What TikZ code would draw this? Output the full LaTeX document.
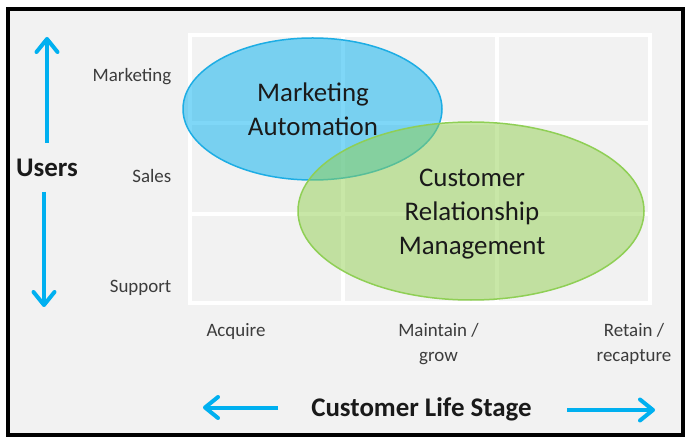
\documentclass[tikz,border=0pt]{standalone}
\usepackage{fontspec}
\setmainfont{Carlito}
\usetikzlibrary{arrows.meta,shapes.geometric}
\definecolor{bg}{HTML}{F2F2F2}
\definecolor{cyanarrow}{HTML}{00B0F0}
\definecolor{mablue}{HTML}{00B0F0}
\definecolor{mastroke}{HTML}{1DADE4}
\definecolor{crmgreen}{HTML}{92D050}
\definecolor{crmstroke}{HTML}{8FCF55}
\definecolor{txt}{HTML}{1A1A1A}
\definecolor{lbl}{HTML}{3C3C3C}
\newcommand{\mlines}[1]{\begin{tabular}[t]{@{}c@{}}#1\end{tabular}}
\begin{document}
\begin{tikzpicture}[x=1bp,y=-1bp,
  gridline/.style={white, line width=4bp},
  bigtext/.style={inner sep=0, text=txt, font=\fontsize{27}{34}\selectfont, anchor=base},
  boldtext/.style={inner sep=0, text=txt, font=\bfseries\fontsize{27}{34}\selectfont, anchor=base},
  rowlabel/.style={inner sep=0, text=lbl, font=\fontsize{19}{24.7}\selectfont, anchor=base east},
  collabel/.style={inner sep=0, text=lbl, font=\fontsize{19}{24.7}\selectfont, anchor=base},
  bluearrow/.style={cyanarrow, line width=4bp, -{Straight Barb[length=13bp,width=21bp,line cap=round,line join=round]}},
  blob/.style={ellipse, inner sep=0, outer sep=0, line width=1.5bp, fill opacity=0.5}
]
\useasboundingbox (0,0) rectangle (685,439);
\fill[white] (0,0) rectangle (685,439);
\draw[line width=4bp, fill=bg] (8,9.5) rectangle (683,434.5);
% grid
\draw[gridline] (190,35) rectangle (650,303);
\draw[gridline] (343,35) -- (343,303);
\draw[gridline] (497,35) -- (497,303);
\draw[gridline] (190,123) -- (650,123);
\draw[gridline] (190,214) -- (650,214);
% ellipses
\node[blob, draw=mastroke, fill=mablue, minimum width=259bp, minimum height=142bp] (ma) at (312.5,109) {};
\node[blob, draw=crmstroke, fill=crmgreen, minimum width=346bp, minimum height=178bp] (crm) at (471,211) {};
% ellipse texts
\node[bigtext] (matext) at (313,101.7) {\mlines{Marketing\\Automation}};
\node[bigtext] (crmtext) at (472,186.7) {\mlines{Customer\\Relationship\\Management}};
% row labels
\node[rowlabel] (rmkt) at (171.5,82) {Marketing};
\node[rowlabel] (rsales) at (171.5,182.7) {Sales};
\node[rowlabel] (rsupport) at (171.5,292.7) {Support};
% column labels
\node[collabel] (cacq) at (236,337) {Acquire};
\node[collabel] (cmain) at (438.5,337) {\mlines{Maintain /\\grow}};
\node[collabel] (cret) at (634,337) {\mlines{Retain /\\recapture}};
% axis titles
\node[boldtext] (users) at (47,176.7) {Users};
\node[boldtext] (cls) at (421.5,416.7) {Customer Life Stage};
% arrows
\coordinate (upS) at (47,143);
\coordinate (upT) at (47,37);
\coordinate (dnS) at (44,192);
\coordinate (dnT) at (44,307);
\coordinate (lfS) at (278,407.5);
\coordinate (lfT) at (203,407.5);
\coordinate (rtS) at (567,410);
\coordinate (rtT) at (655,410);
\draw[bluearrow] (upS) -- (upT);
\draw[bluearrow] (dnS) -- (dnT);
\draw[bluearrow] (lfS) -- (lfT);
\draw[bluearrow] (rtS) -- (rtT);
\end{tikzpicture}
\end{document}
